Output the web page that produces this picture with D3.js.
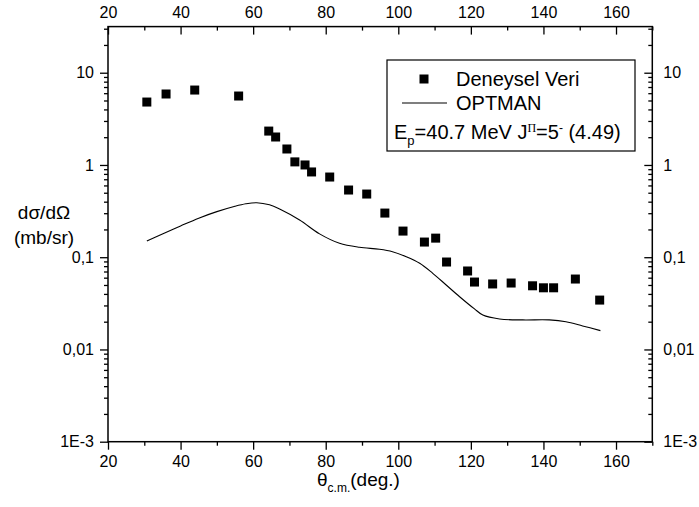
<!DOCTYPE html>
<html>
<head>
<meta charset="utf-8">
<script src="https://cdn.jsdelivr.net/npm/d3@7"></script>
<style>
  html, body { margin: 0; padding: 0; background: #fff; }
  svg { display: block; }
  text { font-family: "Liberation Sans", Arial, Helvetica, sans-serif; fill: #000; }
</style>
</head>
<body>
<svg id="chart" width="699" height="507"></svg>
<script>
// ---- data ----
const expAngles = [30.7, 36.0, 43.9, 56.0, 64.3, 66.2, 69.3, 71.5, 74.3, 76.1, 81.1, 86.3, 91.3, 96.3, 101.3, 107.2, 110.3, 113.3, 119.1, 121.0, 126.0, 131.1, 137.0, 140.0, 142.8, 148.8, 155.5];
const expValues = [4.81, 5.88, 6.49, 5.59, 2.33, 2.01, 1.49, 1.08, 1.00, 0.84, 0.74, 0.535, 0.484, 0.301, 0.192, 0.146, 0.161, 0.0887, 0.0709, 0.0538, 0.0513, 0.0525, 0.049, 0.0466, 0.0466, 0.058, 0.0343];

const calcAngles = [30.7, 35, 40, 45, 50, 55, 58, 61, 64.5, 67.3, 72.8, 78.3, 83.8, 89.3, 94.8, 98.4, 102.2, 105.9, 109.5, 113.2, 116.9, 121.0, 123.3, 127.9, 134.3, 141.6, 146.2, 150.8, 155.7];
const calcValues = [0.150, 0.178, 0.218, 0.265, 0.312, 0.357, 0.38, 0.39, 0.37, 0.333, 0.253, 0.179, 0.1415, 0.128, 0.122, 0.1148, 0.1012, 0.0859, 0.0669, 0.0500, 0.0373, 0.0275, 0.0236, 0.0214, 0.0209, 0.0209, 0.0200, 0.0180, 0.0160];

const xMajorTicks = [20, 40, 60, 80, 100, 120, 140, 160];
const xMinorTicks = [30, 50, 70, 90, 110, 130, 150, 170];
const yMajorTicks = [0.001, 0.01, 0.1, 1, 10];
const yTickLabels = ["1E-3", "0,01", "0,1", "1", "10"];
const yMinorTicks = [];
[0.001, 0.01, 0.1, 1, 10].forEach(d => { for (let k = 2; k <= 9; k++) { const v = d * k; if (v <= 31.6) yMinorTicks.push(v); } });

const legendLabels = ["Deneysel Veri", "OPTMAN"];

// ---- layout ----
const L = 108, R = 652.3, T = 26.6, B = 441.7;
const svg = d3.select("#chart");
const x = d3.scaleLinear().domain([20, 170]).range([L, R]);
const y = d3.scaleLog().domain([0.001, Math.pow(10, 1.5)]).range([B, T]);

const yFmt = v => yTickLabels[yMajorTicks.findIndex(t => Math.abs(t - v) / v < 1e-6)];

function styleAxis(g, fs) {
  g.select(".domain").remove();
  g.selectAll("line").attr("stroke", "#000").attr("stroke-width", 1.3);
  g.selectAll("text").attr("font-size", fs).attr("fill", "#000")
    .style("font-family", '"Liberation Sans", Arial, sans-serif');
}

// bottom
svg.append("g").attr("transform", `translate(0,${B})`)
  .call(d3.axisBottom(x).tickValues(xMajorTicks).tickSize(8).tickPadding(6).tickFormat(d3.format("d")))
  .call(g => styleAxis(g, 16));
svg.append("g").attr("transform", `translate(0,${B})`)
  .call(d3.axisBottom(x).tickValues(xMinorTicks).tickSize(4).tickFormat(""))
  .call(g => styleAxis(g, 16));
// top
svg.append("g").attr("transform", `translate(0,${T})`)
  .call(d3.axisTop(x).tickValues(xMajorTicks).tickSize(-8).tickPadding(9).tickFormat(d3.format("d")))
  .call(g => styleAxis(g, 16));
svg.append("g").attr("transform", `translate(0,${T})`)
  .call(d3.axisTop(x).tickValues(xMinorTicks).tickSize(-4).tickFormat(""))
  .call(g => styleAxis(g, 16));
// left
svg.append("g").attr("transform", `translate(${L},0)`)
  .call(d3.axisLeft(y).tickValues(yMajorTicks).tickSize(8).tickPadding(6).tickFormat(yFmt))
  .call(g => styleAxis(g, 16));
svg.append("g").attr("transform", `translate(${L},0)`)
  .call(d3.axisLeft(y).tickValues(yMinorTicks).tickSize(4).tickFormat(""))
  .call(g => styleAxis(g, 16));
// right
svg.append("g").attr("transform", `translate(${R},0)`)
  .call(d3.axisRight(y).tickValues(yMajorTicks).tickSize(-8).tickPadding(11).tickFormat(yFmt))
  .call(g => styleAxis(g, 16));
svg.append("g").attr("transform", `translate(${R},0)`)
  .call(d3.axisRight(y).tickValues(yMinorTicks).tickSize(-4).tickFormat(""))
  .call(g => styleAxis(g, 16));

// frame
svg.append("rect").attr("x", L).attr("y", T).attr("width", R - L).attr("height", B - T)
  .attr("fill", "none").attr("stroke", "#000").attr("stroke-width", 1.5);

// calc curve
const line = d3.line().x((d, i) => x(calcAngles[i])).y((d, i) => y(calcValues[i])).curve(d3.curveCatmullRom.alpha(0.5));
svg.append("path").datum(calcValues).attr("d", line)
  .attr("fill", "none").attr("stroke", "#000").attr("stroke-width", 1.1);

// experimental points
const sq = 9;
svg.append("g").selectAll("rect").data(expValues).join("rect")
  .attr("x", (d, i) => x(expAngles[i]) - sq / 2)
  .attr("y", d => y(d) - sq / 2)
  .attr("width", sq).attr("height", sq).attr("fill", "#000");

// legend
const lg = svg.append("g");
const lfs = 20;
lg.append("rect").attr("x", 387).attr("y", 60).attr("width", 248).attr("height", 91)
  .attr("fill", "#fff").attr("stroke", "#000").attr("stroke-width", 1.2);
lg.append("rect").attr("x", 424 - sq / 2).attr("y", 79 - sq / 2).attr("width", sq).attr("height", sq).attr("fill", "#000");
lg.append("text").attr("x", 456).attr("y", 86).attr("font-size", lfs).text(legendLabels[0]);
lg.append("line").attr("x1", 402).attr("x2", 447).attr("y1", 103).attr("y2", 103).attr("stroke", "#000").attr("stroke-width", 1.1);
lg.append("text").attr("x", 456).attr("y", 110).attr("font-size", lfs).text(legendLabels[1]);
const t3 = lg.append("text").attr("x", 394).attr("y", 139).attr("font-size", lfs);
t3.append("tspan").text("E");
t3.append("tspan").attr("dy", 6).attr("font-size", 13).text("p");
t3.append("tspan").attr("dy", -6).text("=40.7 MeV J");
t3.append("tspan").attr("dy", -7).attr("font-size", 12).style("font-family", '"Liberation Serif", serif').text("\u03A0");
t3.append("tspan").attr("dy", 7).text("=5");
t3.append("tspan").attr("dy", -7).attr("font-size", 12).text("-");
t3.append("tspan").attr("dy", 7).text(" (4.49)");

// axis titles
svg.append("text").attr("x", 44).attr("y", 219).attr("text-anchor", "middle").attr("font-size", 19).text("d\u03C3/d\u03A9");
svg.append("text").attr("x", 44).attr("y", 244).attr("text-anchor", "middle").attr("font-size", 19).text("(mb/sr)");

const xt = svg.append("text").attr("x", 317).attr("y", 486).attr("font-size", 19);
xt.append("tspan").text("\u03B8");
xt.append("tspan").attr("dy", 6).attr("font-size", 12).text("c.m.");
xt.append("tspan").attr("dy", -6).text("(deg.)");
</script>
</body>
</html>
